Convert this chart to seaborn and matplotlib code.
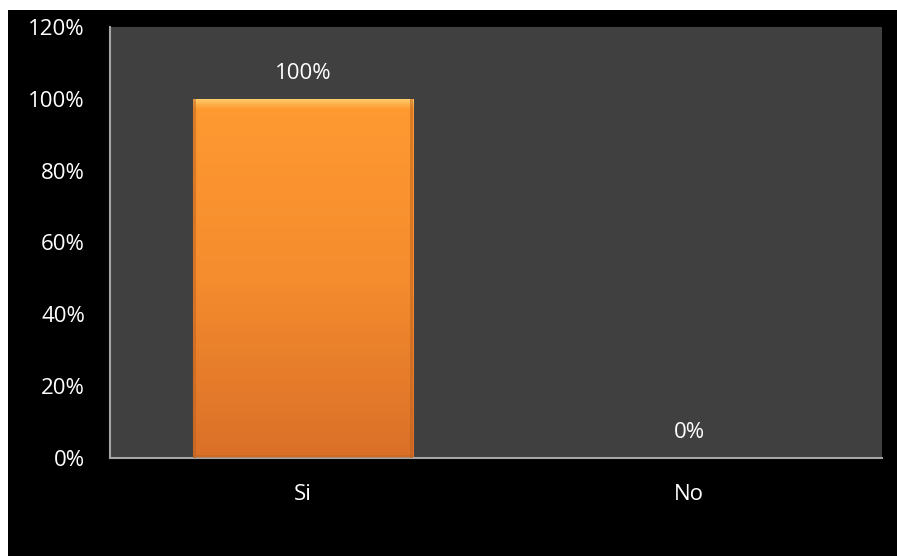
import numpy as np
import pandas as pd
import matplotlib
matplotlib.use("Agg")
import matplotlib.pyplot as plt
from matplotlib.patches import Rectangle
from matplotlib.colors import LinearSegmentedColormap
import seaborn as sns

categories = ["Si", "No"]
values = [100, 0]
y_ticks = [0, 20, 40, 60, 80, 100, 120]
y_tick_labels = ["0%", "20%", "40%", "60%", "80%", "100%", "120%"]
value_labels = ["100%", "0%"]

sns.set_theme(style="white")
plt.rcParams["font.family"] = ["Open Sans", "DejaVu Sans"]

W, H = 897, 556
fig = plt.figure(figsize=(W / 100, H / 100), dpi=100)
fig.patch.set_facecolor("white")
# black panel behind the chart
fig.add_artist(Rectangle((8 / W, 0), 1 - 8 / W, (H - 10) / H,
                         transform=fig.transFigure, facecolor="black",
                         edgecolor="none", zorder=0))

ax = fig.add_axes([110 / W, (H - 458) / H, 772 / W, 431 / H])
ax.set_facecolor("#404040")

df = pd.DataFrame({"cat": categories, "val": values})
sns.barplot(data=df, x="cat", y="val", ax=ax, color="#F7922F",
            width=0.57, saturation=1, edgecolor="#B8601E", linewidth=0.8)

ax.set_ylim(0, 120)
ax.set_xlim(-0.5, 1.5)

# vertical orange gradient with a light bevel at the top of each bar
cmap = LinearSegmentedColormap.from_list("bar", ["#DA7028", "#F58C2E", "#FF9A31"])
grad = np.linspace(0, 1, 256).reshape(-1, 1)
for patch in ax.patches:
    x0, y0 = patch.get_x(), patch.get_y()
    w, h = patch.get_width(), patch.get_height()
    if h <= 0:
        continue
    im = ax.imshow(grad, extent=[x0, x0 + w, y0, y0 + h], origin="lower",
                   cmap=cmap, aspect="auto", zorder=2)
    im.set_clip_path(patch)
    # soft highlight band along the top edge
    band = np.linspace(0, 1, 64).reshape(-1, 1)
    hl = LinearSegmentedColormap.from_list(
        "hl", [(1.0, 0.76, 0.35, 0.0), (1.0, 0.82, 0.45, 0.95)])
    im2 = ax.imshow(band, extent=[x0, x0 + w, y0 + h - 3.0, y0 + h],
                    origin="lower", cmap=hl, aspect="auto", zorder=3)
    im2.set_clip_path(patch)
    ax.add_patch(Rectangle((x0, y0), w * 0.012, h, facecolor="#B8601E",
                           edgecolor="none", alpha=0.5, zorder=3))
    ax.add_patch(Rectangle((x0 + w * 0.988, y0), w * 0.012, h, facecolor="#B8601E",
                           edgecolor="none", alpha=0.5, zorder=3))
    ax.add_patch(Rectangle((x0, y0), w, 0.8, facecolor="#B8601E",
                           edgecolor="none", alpha=0.4, zorder=3))
    ax.set_xlim(-0.5, 1.5)
    ax.set_ylim(0, 120)

for i, (v, lab) in enumerate(zip(values, value_labels)):
    ax.text(i, v + 7, lab, ha="center", va="center", color="white", fontsize=16)

ax.set_yticks(y_ticks)
ax.set_yticklabels(y_tick_labels)
ax.tick_params(axis="both", colors="white", labelsize=16, length=0)
ax.tick_params(axis="y", pad=18)
ax.tick_params(axis="x", pad=19)
ax.set_xlabel("")
ax.set_ylabel("")

for side in ["top", "right"]:
    ax.spines[side].set_visible(False)
for side in ["left", "bottom"]:
    ax.spines[side].set_color("#A6A6A6")
    ax.spines[side].set_linewidth(1.5)

fig.savefig("out.png", dpi=100, facecolor=fig.get_facecolor())
